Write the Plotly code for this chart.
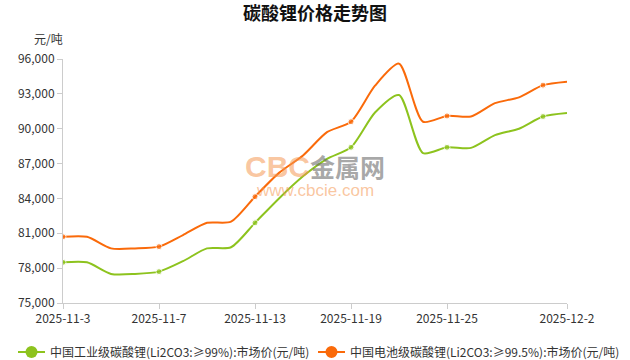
import plotly.graph_objects as go

dates = ["2025-11-3", "2025-11-4", "2025-11-5", "2025-11-6", "2025-11-7",
         "2025-11-10", "2025-11-11", "2025-11-12", "2025-11-13", "2025-11-14",
         "2025-11-17", "2025-11-18", "2025-11-19", "2025-11-20", "2025-11-21",
         "2025-11-24", "2025-11-25", "2025-11-26", "2025-11-27", "2025-11-28",
         "2025-12-1", "2025-12-2"]
industrial = [78500, 78500, 77500, 77500, 77700, 78600, 79700, 79800, 81900, 84000,
              85900, 87400, 88400, 91400, 92900, 87900, 88400, 88350, 89450, 90000,
              91050, 91350]
battery = [80700, 80700, 79700, 79700, 79850, 80850, 81900, 82000, 84150, 86200,
           87700, 89700, 90600, 93700, 95600, 90600, 91100, 91050, 92200, 92700,
           93750, 94050]
tick_labels = ["2025-11-3", "2025-11-7", "2025-11-13", "2025-11-19", "2025-11-25", "2025-12-2"]
y_ticks = [75000, 78000, 81000, 84000, 87000, 90000, 93000, 96000]
names = ["中国工业级碳酸锂(Li2CO3:≥99%):市场价(元/吨)",
         "中国电池级碳酸锂(Li2CO3:≥99.5%):市场价(元/吨)"]
colors = ["#8DC31E", "#FA6A0A"]

marker_sizes = [6 if i % 4 == 0 else 0 for i in range(len(dates))]

fig = go.Figure()
for series, name, color in zip([industrial, battery], names, colors):
    fig.add_trace(go.Scatter(
        x=dates, y=series, name=name, mode="lines+markers", showlegend=False,
        line=dict(color=color, width=2, shape="spline", smoothing=0.7),
        marker=dict(color=color, size=marker_sizes, symbol="circle"),
    ))

font_family = "Noto Sans CJK SC, Noto Sans, sans-serif"

fig.update_layout(
    width=630, height=360,
    margin=dict(l=63, r=63, t=59, b=57, autoexpand=False),
    paper_bgcolor="white", plot_bgcolor="white",
    font=dict(family=font_family, size=12, color="#333333"),
    title=dict(text="<b>碳酸锂价格走势图</b>", x=0.5, xanchor="center",
               y=0.961, yanchor="middle", font=dict(size=18, color="#111111")),
    showlegend=False,
    xaxis=dict(type="category", range=[0, len(dates) - 1],
               tickmode="array", tickvals=tick_labels, ticktext=tick_labels,
               showgrid=False, showline=True, linecolor="#cccccc", linewidth=1,
               ticks="outside", ticklen=5, tickcolor="#cccccc",
               tickfont=dict(size=12, color="#333333"), zeroline=False),
    yaxis=dict(range=[75000, 96000], tickvals=y_ticks, tickformat=",",
               showgrid=False, showline=True, linecolor="#cccccc", linewidth=1,
               ticks="outside", ticklen=5, tickcolor="#cccccc",
               tickfont=dict(size=12, color="#333333"), zeroline=False),
)

fig.add_annotation(text="元/吨", xref="paper", yref="paper", x=0.004, y=1.086,
                   xanchor="right", yanchor="middle", showarrow=False,
                   font=dict(size=12, color="#333333"))

# manual legend (single row, as in the reference)
legend_y = -0.2008
legend_items = [(-0.0893, -0.0357, -0.0625, -0.0298), (0.5060, 0.5595, 0.5327, 0.5655)]
for (lx0, lx1, cx, tx), name, color in zip(legend_items, names, colors):
    fig.add_shape(type="line", xref="paper", yref="paper", x0=lx0, x1=lx1,
                  y0=legend_y, y1=legend_y, line=dict(color=color, width=2))
    fig.add_shape(type="circle", xref="paper", yref="paper",
                  xsizemode="pixel", ysizemode="pixel", xanchor=cx, yanchor=legend_y,
                  x0=-6, x1=6, y0=-6, y1=6, fillcolor=color, line=dict(color=color, width=0))
    fig.add_annotation(text=name, xref="paper", yref="paper", x=tx, y=legend_y,
                       xanchor="left", yanchor="middle", showarrow=False,
                       font=dict(size=12, color="#333333"))

# watermark
fig.add_annotation(
    text=("<b><span style='color:rgba(245,150,80,0.55);font-family:Arial;font-size:30px'>CBC</span>"
          "<span style='color:rgba(110,110,110,0.6);font-size:25px'>金属网</span></b>"),
    xref="paper", yref="paper", x=0.5, y=0.561,
    xanchor="center", yanchor="middle", showarrow=False,
    font=dict(size=25, family=font_family))
fig.add_annotation(text="www.cbcie.com", xref="paper", yref="paper", x=0.5, y=0.46,
                   xanchor="center", yanchor="middle", showarrow=False,
                   font=dict(size=17, color="rgba(245,150,80,0.55)", family="Arial"))

fig.write_html("out.html")
